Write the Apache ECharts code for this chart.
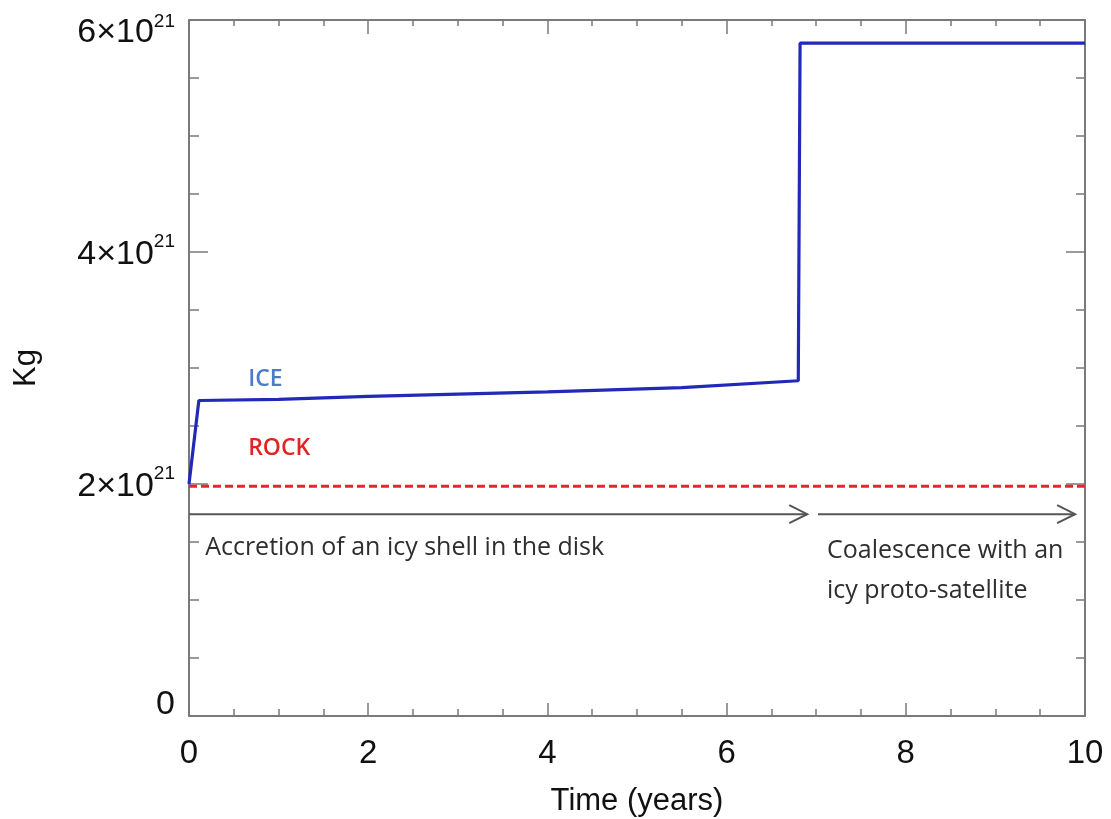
<!DOCTYPE html>
<html>
<head>
<meta charset="utf-8">
<script src="https://cdn.jsdelivr.net/npm/echarts@6/dist/echarts.min.js"></script>
<style>
html,body{margin:0;padding:0;background:#fff;}
#chart{width:1111px;height:819px;}
</style>
</head>
<body>
<div id="chart"></div>
<script>
// ---- data (mass in kg, time in years) ----
const iceTime  = [0, 0.11, 1, 2, 3, 4, 5.5, 6.8, 6.82, 10];
const iceMass  = [2.0e21, 2.72e21, 2.73e21, 2.755e21, 2.775e21, 2.795e21, 2.83e21, 2.89e21, 5.80e21, 5.80e21];
const rockTime = [0, 10];
const rockMass = [1.98e21, 1.98e21];
const xTicks = [0, 2, 4, 6, 8, 10];
const yTicks = [0, 2e21, 4e21, 6e21];
// phase arrows: [start year, end year, level kg]
const arrows = [[0, 6.9, 1.74e21], [7.02, 9.89, 1.74e21]];
// annotations: [year, level kg, text, kind]
const notes = [
  [0.66, 2.90e21, 'ICE', 'ice'],
  [0.66, 2.31e21, 'ROCK', 'rock'],
  [0.18, 1.45e21, 'Accretion of an icy shell in the disk', 'text'],
  [7.12, 1.25e21, 'Coalescence with an\nicy proto-satellite', 'text']
];

const chart = echarts.init(document.getElementById('chart'), null, {renderer: 'canvas'});
const axisCol = '#7a7a7a';
const font = '"Liberation Sans", Arial, Helvetica, sans-serif';
const noteFont = '"Open Sans", "Liberation Sans", sans-serif';
const yMax = yTicks[yTicks.length - 1];

function yLabel(v) {
  if (v === 0) return '{z|0}';
  const m = Math.round(v / 1e21);
  if (v === yMax) return '{M|' + m + '×10}{S|21}';
  return '{m|' + m + '×10}{s|21}';
}

const noteStyles = {
  ice:  {fill: '#4b7dc6', fontSize: 23, fontFamily: noteFont, fontWeight: 600},
  rock: {fill: '#e02424', fontSize: 23, fontFamily: noteFont, fontWeight: 600},
  text: {fill: '#2e2e2e', fontSize: 25, fontFamily: noteFont, lineHeight: 40}
};

function boxAxis(extra) {
  return Object.assign({
    axisLine: {show: true, onZero: false, lineStyle: {color: axisCol, width: 2}},
    splitLine: {show: false}
  }, extra);
}

const option = {
  animation: false,
  backgroundColor: '#fff',
  grid: {left: 189, right: 26, top: 20, bottom: 103, containLabel: false, outerBoundsMode: 'none'},
  xAxis: [boxAxis({
    type: 'value', min: 0, max: 10, interval: 2, position: 'bottom',
    name: 'Time (years)', nameLocation: 'middle', nameGap: 70,
    nameTextStyle: {fontFamily: font, fontSize: 31, color: '#111'},
    axisTick: {show: true, inside: true, length: 13, lineStyle: {color: axisCol, width: 1.5}},
    minorTick: {show: true, splitNumber: 4, length: 7, lineStyle: {color: axisCol, width: 1.5}},
    axisLabel: {
      margin: 21, fontFamily: font, fontSize: 33, color: '#111',
      customValues: xTicks, formatter: v => String(v)
    }
  }), boxAxis({
    type: 'value', min: 0, max: 10, interval: 2, position: 'top',
    axisTick: {show: true, inside: true, length: 14, lineStyle: {color: axisCol, width: 1.5}},
    minorTick: {show: true, splitNumber: 4, length: 6, lineStyle: {color: axisCol, width: 1.5}},
    axisLabel: {show: false}
  })],
  yAxis: [boxAxis({
    type: 'value', min: 0, max: 6e21, interval: 2e21, position: 'left',
    name: 'Kg', nameLocation: 'middle', nameGap: 147,
    nameTextStyle: {fontFamily: font, fontSize: 31, color: '#111'},
    axisTick: {show: true, inside: true, length: 19, lineStyle: {color: axisCol, width: 1.5}},
    minorTick: {show: true, splitNumber: 4, length: 10, lineStyle: {color: axisCol, width: 1.5}},
    axisLabel: {
      margin: 14, color: '#111', fontFamily: font,
      customValues: yTicks,
      formatter: yLabel,
      rich: {
        z: {fontFamily: font, fontSize: 34, padding: [0, 0, 22, 0], color: '#111'},
        m: {fontFamily: font, fontSize: 34, padding: [6, 0, 0, 0], color: '#111'},
        s: {fontFamily: font, fontSize: 19, padding: [0, 0, 20, 0], color: '#111'},
        M: {fontFamily: font, fontSize: 34, padding: [26, 0, 0, 0], color: '#111'},
        S: {fontFamily: font, fontSize: 19, padding: [4, 0, 0, 0], color: '#111'}
      }
    }
  }), boxAxis({
    type: 'value', min: 0, max: 6e21, interval: 2e21, position: 'right',
    axisTick: {show: true, inside: true, length: 19, lineStyle: {color: axisCol, width: 1.5}},
    minorTick: {show: true, splitNumber: 4, length: 9, lineStyle: {color: axisCol, width: 1.5}},
    axisLabel: {show: false}
  })],
  series: [{
    name: 'ROCK', type: 'line', xAxisIndex: 0, yAxisIndex: 0,
    data: rockTime.map((t, i) => [t, rockMass[i]]),
    showSymbol: false, symbol: 'none',
    lineStyle: {color: '#e3282a', width: 3, type: [8, 4]},
    z: 3
  }, {
    name: 'ICE', type: 'line', xAxisIndex: 0, yAxisIndex: 0,
    data: iceTime.map((t, i) => [t, iceMass[i]]),
    showSymbol: false, symbol: 'none',
    lineStyle: {color: '#2129b8', width: 3.2},
    z: 4
  }, {
    name: 'arrows', type: 'custom', xAxisIndex: 0, yAxisIndex: 0,
    data: arrows,
    renderItem: function (params, api) {
      const p0 = api.coord([api.value(0), api.value(2)]);
      const p1 = api.coord([api.value(1), api.value(2)]);
      const st = {stroke: '#555', lineWidth: 2, fill: null};
      return {
        type: 'group',
        children: [
          {type: 'line', shape: {x1: p0[0], y1: p0[1], x2: p1[0], y2: p1[1]}, style: st},
          {type: 'polyline', shape: {points: [[p1[0] - 18, p1[1] - 9], [p1[0], p1[1]], [p1[0] - 18, p1[1] + 9]]}, style: st}
        ]
      };
    },
    z: 2
  }, {
    name: 'notes', type: 'custom', xAxisIndex: 0, yAxisIndex: 0,
    data: notes,
    renderItem: function (params, api) {
      const n = notes[params.dataIndex];
      const p = api.coord([n[0], n[1]]);
      const s = noteStyles[n[3]];
      return {
        type: 'text',
        x: p[0], y: p[1],
        style: Object.assign({text: n[2], align: 'left', verticalAlign: 'middle'}, s)
      };
    },
    z: 5
  }]
};
chart.setOption(option);
</script>
</body>
</html>
